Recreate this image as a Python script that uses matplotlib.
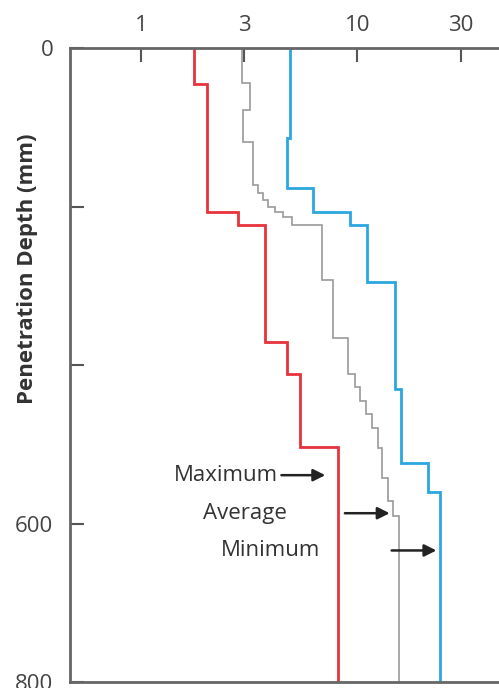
import numpy as np
import matplotlib
matplotlib.use("Agg")
import matplotlib.pyplot as plt

plt.rcParams['font.family'] = ['Open Sans', 'DejaVu Sans']

# depth breakpoints (mm) and penetration values for each profile
red_vals = [1.75, 2.01, 2.80, 3.73, 4.72, 5.42, 8.12]
red_depth = [0, 45, 207, 223, 371, 411, 503, 800]

blue_vals = [4.87, 4.72, 6.22, 9.23, 11.07, 14.9, 15.9, 21.2, 24.1]
blue_depth = [0, 114, 177, 207, 223, 295, 430, 524, 560, 800]

gray_vals = [2.92, 3.18, 2.94, 3.28, 3.46, 3.65, 3.85, 4.15, 4.52, 4.98, 6.85,
             7.70, 9.04, 9.7, 10.25, 10.9, 11.7, 12.4, 13.0, 13.8, 14.6, 15.5]
gray_depth = [0, 44, 78, 118, 173, 183, 192, 200, 207, 213, 223, 293, 366, 411,
              428, 445, 462, 480, 505, 543, 572, 590, 800]

x_ticks = [1, 3, 10, 30]
y_ticks = [0, 200, 400, 600, 800]
y_ticklabels = ['0', '', '', '600', '800']

# annotations: label, text right edge x, arrow tail x, arrow tip x, depth
notes = [("Maximum", 4.28, 4.45, 7.1, 539),
         ("Average", 4.72, 8.75, 14.1, 587),
         ("Minimum", 6.70, 14.4, 23.2, 634)]

fig = plt.figure(figsize=(4.99, 6.88), dpi=100)
ax = fig.add_axes([0.140, 0.0087, 0.86, 0.9215])

ax.stairs(red_vals, red_depth, orientation='horizontal', baseline=None,
          color='#e8323c', lw=2.0)
ax.stairs(gray_vals, gray_depth, orientation='horizontal', baseline=None,
          color='#9a9a9a', lw=1.2)
ax.stairs(blue_vals, blue_depth, orientation='horizontal', baseline=None,
          color='#2aa7df', lw=2.0)

ax.set_xscale('log')
ax.set_xlim(0.467, 45.2)
ax.set_ylim(800, 0)

ax.xaxis.tick_top()
ax.set_xticks(x_ticks)
ax.set_xticklabels([str(t) for t in x_ticks])
ax.xaxis.set_minor_locator(matplotlib.ticker.NullLocator())
ax.set_yticks(y_ticks)
ax.set_yticklabels(y_ticklabels)

ax.tick_params(axis='both', direction='in', length=10, width=1.5,
               color='#555555', labelcolor='#444444', labelsize=16)
ax.tick_params(axis='x', pad=9)
ax.tick_params(axis='y', pad=12)

for side in ['left', 'top', 'bottom']:
    ax.spines[side].set_color('#666666')
    ax.spines[side].set_linewidth(2)
ax.spines['right'].set_visible(False)

fig.text(0.056, 0.61, 'Penetration Depth (mm)', rotation=90, ha='center',
         va='center', fontsize=16, fontweight='bold', color='#333333')

for label, tx, x0, x1, d in notes:
    ax.text(tx, d, label, ha='right', va='center', fontsize=16, color='#333333')
    ax.annotate('', xy=(x1, d), xytext=(x0, d),
                arrowprops=dict(arrowstyle='-|>', color='#222222', lw=1.8,
                                mutation_scale=18, shrinkA=0, shrinkB=0))

fig.savefig('out.png', dpi=100)
